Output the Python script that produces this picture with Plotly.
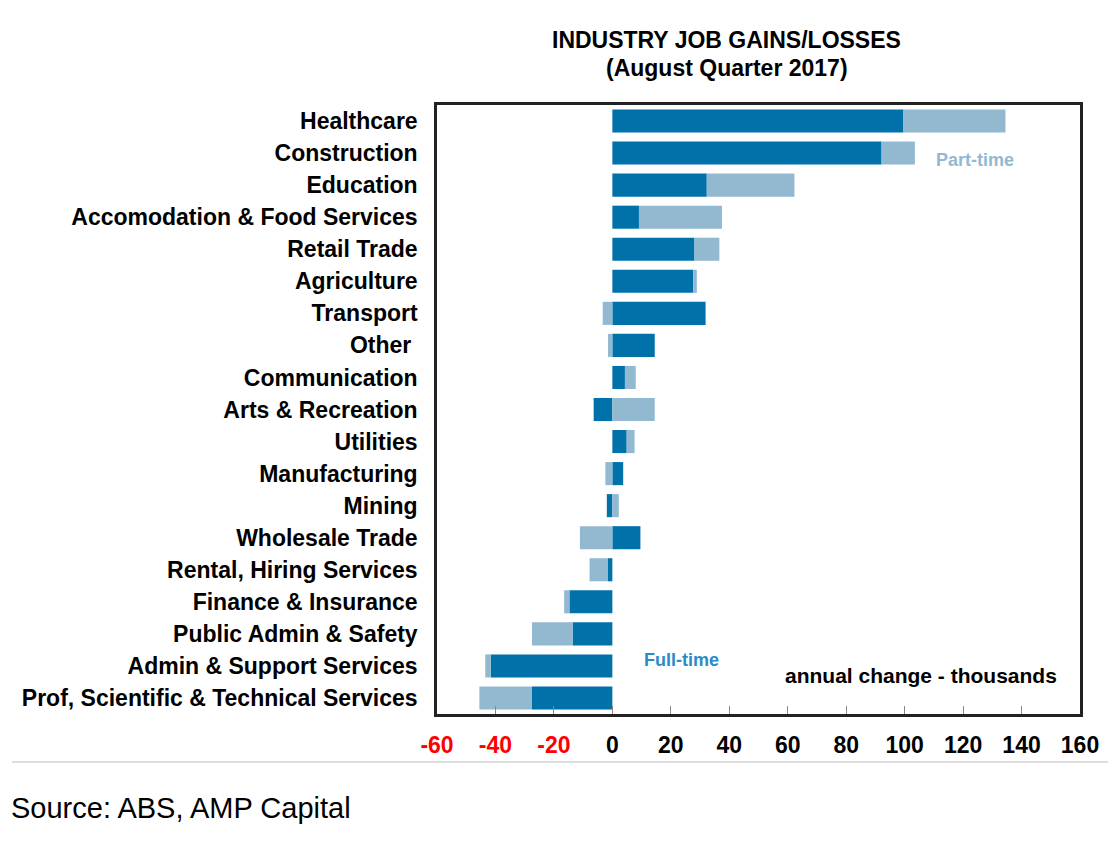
import plotly.graph_objects as go

# Industry job gains/losses, annual change in thousands (Aug qtr 2017)
industries = ["Healthcare", "Construction", "Education",
              "Accomodation & Food Services", "Retail Trade", "Agriculture",
              "Transport", "Other\u00a0", "Communication", "Arts & Recreation",
              "Utilities", "Manufacturing", "Mining", "Wholesale Trade",
              "Rental, Hiring Services", "Finance & Insurance",
              "Public Admin & Safety", "Admin & Support Services",
              "Prof, Scientific & Technical Services"]

full_time = [99.6, 92.1, 32.3, 9.1, 28.1, 27.7, 31.9, 14.5, 4.3, -6.4,
             4.9, 3.7, -1.9, 9.6, -1.5, -14.7, -13.6, -41.6, -27.5]
part_time = [34.9, 11.4, 30.0, 28.4, 8.5, 1.2, -3.3, -1.5, 3.7, 14.5,
             2.7, -2.4, 2.2, -11.1, -6.3, -1.8, -13.9, -1.9, -18.0]

x_ticks = [-60, -40, -20, 0, 20, 40, 60, 80, 100, 120, 140, 160]

DARK = "#0071A9"
LIGHT = "#93B9D1"
FONT = "Liberation Sans"

x_lo, x_hi = x_ticks[0], x_ticks[-1]
n = len(industries)

fig = go.Figure()
fig.add_trace(go.Bar(y=industries, x=full_time, orientation="h",
                     name="Full-time", marker=dict(color=DARK, line=dict(width=0))))
fig.add_trace(go.Bar(y=industries, x=part_time, orientation="h",
                     name="Part-time", marker=dict(color=LIGHT, line=dict(width=0))))

tick_text = []
for t in x_ticks:
    if t < 0:
        tick_text.append('<span style="color:#FF0000">{}</span>'.format(t))
    else:
        tick_text.append(str(t))

# page has an 8px body margin, so the plot box sits at 437..1080 x 105..714
fig.update_layout(
    width=1120, height=846,
    margin=dict(l=429, r=48, t=97, b=140),
    paper_bgcolor="white", plot_bgcolor="white",
    barmode="relative", bargap=0.28,
    showlegend=False,
    font=dict(family=FONT, color="black"),
    xaxis=dict(range=[x_lo, x_hi], tickvals=x_ticks, ticktext=tick_text,
               showgrid=False, zeroline=False,
               showline=True, mirror=True, linecolor="#222222", linewidth=2.5,
               ticks="inside", ticklen=8, tickcolor="#888888", tickwidth=1.2,
               ticklabelstandoff=9,
               tickfont=dict(size=23, weight="bold", color="black")),
    yaxis=dict(type="category", categoryorder="array", categoryarray=industries,
               range=[n - 0.5, -0.5],
               showgrid=False, zeroline=False,
               showline=True, mirror=True, linecolor="#222222", linewidth=2.5,
               ticks="", ticklabelstandoff=12,
               tickfont=dict(size=23, weight="bold", color="black")),
    # zero line with small category ticks
    yaxis2=dict(overlaying="y", anchor="free",
                position=(0 - x_lo) / (x_hi - x_lo),
                range=[n - 0.5, -0.5],
                tickvals=[i + 0.5 for i in range(n - 1)],
                showticklabels=False, showgrid=False, zeroline=False,
                showline=True, linecolor="#8a8a8a", linewidth=1.5,
                ticks="outside", ticklen=6, tickcolor="#8a8a8a", tickwidth=1.5),
)


def note(text, x, y, size, color="black", weight="bold", xanchor="center"):
    fig.add_annotation(text=text, xref="paper", yref="paper", x=x, y=y,
                       xanchor=xanchor, yanchor="middle", showarrow=False,
                       font=dict(size=size, weight=weight, color=color))


note("INDUSTRY JOB GAINS/LOSSES", 0.451, 1.1067, 23)
note("(August Quarter 2017)", 0.451, 1.0608, 23)
note("Part-time", 0.8367, 0.9097, 18, color=LIGHT)
note("Full-time", 0.3795, 0.0887, 18, color="#2B8BC8")
note("annual change - thousands", 0.7527, 0.064, 21)
note("Source: ABS, AMP Capital", -0.666, -0.1544, 29, weight="normal",
     xanchor="left")

fig.add_shape(type="line", xref="paper", yref="paper",
              x0=-0.661, x1=1.0436, y0=-0.0788, y1=-0.0788,
              line=dict(color="#dddddd", width=2))

fig.write_html("out.html")
